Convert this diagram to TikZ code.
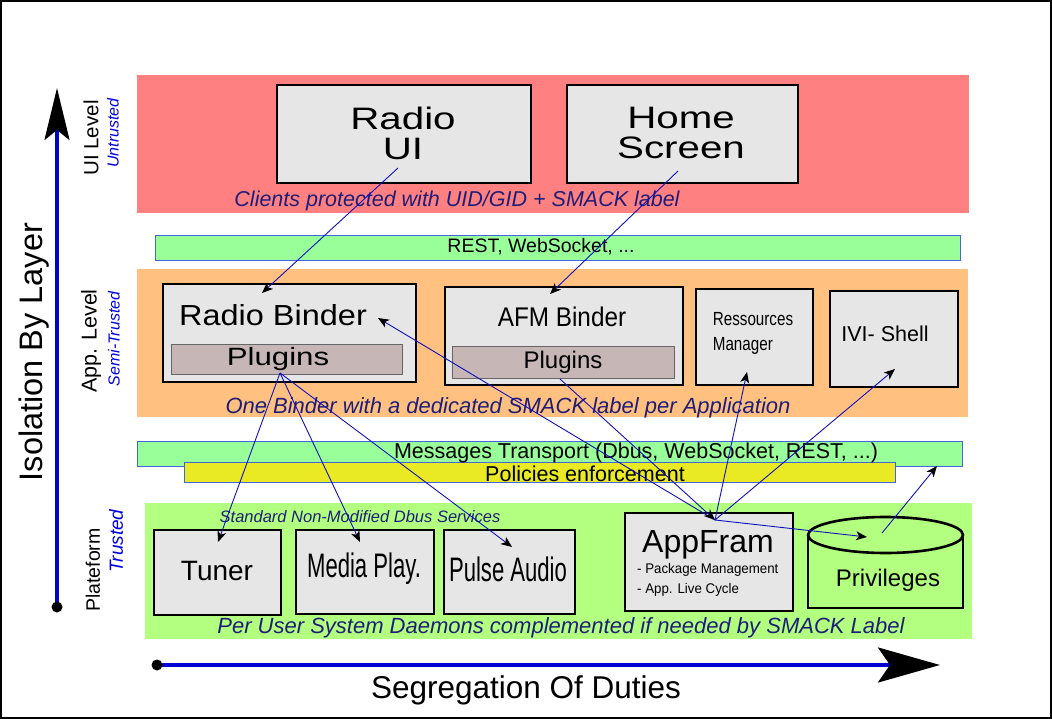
\documentclass[tikz,border=0pt]{standalone}
\usepackage{fontspec}
\setmainfont{Liberation Sans}
\usetikzlibrary{arrows.meta}
\definecolor{uired}{HTML}{FF8080}
\definecolor{apporange}{HTML}{FFC080}
\definecolor{bandgreen}{HTML}{99FF99}
\definecolor{platgreen}{HTML}{B3FF80}
\definecolor{polyellow}{HTML}{EAEA24}
\definecolor{bandblue}{HTML}{4466DD}
\definecolor{boxgray}{HTML}{E6E6E6}
\definecolor{pluggray}{HTML}{C6B6B6}
\definecolor{navy}{HTML}{1E1E78}
\definecolor{lblblue}{HTML}{0000E0}
\definecolor{linkblue}{HTML}{1010C0}
\definecolor{axisblue}{HTML}{0000D0}
\newcommand\fsz[2]{\fontsize{#1}{#2}\selectfont}
\begin{document}
\begin{tikzpicture}[x=1pt,y=-1pt,
 box/.style={draw=black,line width=2.2pt,fill=boxgray,anchor=north west,inner sep=0pt},
 plug/.style={draw=black!60,line width=1pt,fill=pluggray,anchor=north west,inner sep=0pt},
 band/.style={draw=bandblue,line width=1.2pt,anchor=north west,inner sep=0pt},
 layer/.style={anchor=north west,inner sep=0pt},
 txt/.style={inner sep=0pt,text=black},
 note/.style={inner sep=0pt,text=navy,font=\itshape\fsz{22}{26}},
 lvl/.style={inner sep=0pt,rotate=90,text=black},
 trust/.style={inner sep=0pt,rotate=90,text=lblblue,font=\itshape\fsz{16}{19}},
 link/.style={draw=linkblue,line width=0.9pt,-{Stealth[length=11pt,width=9pt,inset=3pt,color=black]}},
 axis/.style={draw=axisblue,line width=3.5pt}]
\useasboundingbox (0,0) rectangle (1052,719);
\draw[line width=2pt] (1,1) rectangle (1051,718);

% layers and bands
\node[layer,fill=uired,minimum width=832pt,minimum height=138pt] (uiband) at (137,75) {};
\node[band,fill=bandgreen,minimum width=805pt,minimum height=25pt] (rest) at (155,235) {};
\node[layer,fill=apporange,minimum width=831pt,minimum height=148pt] (appband) at (137,269) {};
\node[band,fill=bandgreen,minimum width=825pt,minimum height=25pt] (msg) at (137,441) {};
\node[band,fill=polyellow,minimum width=711pt,minimum height=20pt] (pol) at (184,462) {};
\node[layer,fill=platgreen,minimum width=827pt,minimum height=136pt] (platband) at (145,503) {};

% UI level boxes
\node[box,minimum width=254pt,minimum height=98pt] (radioui) at (276,84) {};
\node[box,minimum width=231pt,minimum height=98pt] (home) at (566,84) {};
\node[txt,xscale=1.3,align=center,font=\fsz{31}{30}] (radiouit) at (403,133) {Radio\\UI};
\node[txt,xscale=1.3,align=center,font=\fsz{31}{30}] (homet) at (681,133) {Home\\Screen};
\node[note,font=\itshape\fsz{21.5}{26}] (clients) at (457,201) {Clients protected with UID/GID + SMACK label};

\node[txt,font=\fsz{19.5}{23}] (restt) at (541,247) {REST, WebSocket, ...};

% App level boxes
\node[box,minimum width=253pt,minimum height=98pt] (rbinder) at (162,283) {};
\node[plug,minimum width=231pt,minimum height=30pt] (rplug) at (171,344) {};
\node[txt,xscale=1.12,font=\fsz{29}{34}] (rbindert) at (273,315) {Radio Binder};
\node[txt,xscale=1.25,font=\fsz{25}{30}] (rplugt) at (278,359) {Plugins};
\node[box,minimum width=238pt,minimum height=98pt] (afm) at (444,286) {};
\node[plug,minimum width=222pt,minimum height=32pt] (aplug) at (452,346) {};
\node[txt,xscale=0.9,font=\fsz{27}{32}] (afmt) at (562,317) {AFM Binder};
\node[txt,font=\fsz{24}{28}] (aplugt) at (563,362) {Plugins};
\node[box,minimum width=117pt,minimum height=96pt] (resman) at (695,288) {};
\node[txt,xscale=0.8,align=left,font=\fsz{19}{25}] (resmant) at (753,333) {Ressources\\Manager};
\node[box,minimum width=128pt,minimum height=96pt] (ivi) at (829,290) {};
\node[txt,font=\fsz{21.5}{25}] (ivit) at (885,334) {IVI- Shell};
\node[note] (onebinder) at (508,408) {One Binder with a dedicated SMACK label per Application};

\node[txt,font=\fsz{21.5}{25}] (msgt) at (636,453) {Messages Transport (Dbus, WebSocket, REST, ...)};
\node[txt,font=\fsz{21.5}{25}] (polt) at (585,474) {Policies enforcement};

% Platform boxes
\node[note,font=\itshape\fsz{16.5}{19}] (standard) at (360,517) {Standard Non-Modified Dbus Services};
\node[box,minimum width=127pt,minimum height=85pt] (tuner) at (153,529) {};
\node[txt,font=\fsz{28}{32}] (tunert) at (217,571) {Tuner};
\node[box,minimum width=138pt,minimum height=84pt] (media) at (295,529) {};
\node[txt,xscale=0.65,font=\fsz{34}{38}] (mediat) at (364,569) {Media Play.};
\node[box,minimum width=131pt,minimum height=84pt] (pulse) at (443,529) {};
\node[txt,xscale=0.65,font=\fsz{34}{38}] (pulset) at (508,569) {Pulse Audio};
\node[box,minimum width=168pt,minimum height=98pt] (appfram) at (624,512) {};
\node[txt,font=\fsz{32}{36}] (appframt) at (708,545) {AppFram};
\node[txt,anchor=west,xscale=0.95,font=\fsz{14}{17}] (pkg) at (637,570) {- Package Management};
\node[txt,anchor=west,xscale=0.95,font=\fsz{14}{17}] (cycle) at (637,590) {- App. Live Cycle};

% Privileges cylinder
\fill[platgreen] (808,535) rectangle (963,608);
\draw[line width=2.2pt] (808,535) -- (808,608) -- (963,608) -- (963,535);
\draw[line width=2.6pt,fill=platgreen] (885.5,535) ellipse [x radius=77.5pt, y radius=18pt];
\node[txt,font=\fsz{24}{28}] (priv) at (888,580) {Privileges};

\node[note] (peruser) at (561,628) {Per User System Daemons complemented if needed by SMACK Label};

% left labels
\node[lvl,font=\fsz{32.5}{38}] (isolation) at (34,352) {Isolation By Layer};
\node[lvl,font=\fsz{20.5}{24}] (uilevel) at (91,138) {UI Level};
\node[trust] (untrusted) at (113,133) {Untrusted};
\node[lvl,font=\fsz{21.5}{25}] (applevel) at (91,341) {App. Level};
\node[trust] (semitrusted) at (114,339) {Semi-Trusted};
\node[lvl,font=\fsz{19.5}{23}] (plateform) at (93,570) {Plateform};
\node[trust,font=\itshape\fsz{19}{22}] (trusted) at (116,541) {Trusted};

% axes
\coordinate (vdot) at (57,607);
\coordinate (vtip) at (57,88);
\coordinate (hdot) at (157,665);
\coordinate (htip) at (940,665);
\draw[axis,-{Stealth[length=52pt,width=25pt,inset=10pt,color=black]}] (vdot) -- (vtip);
\draw[axis,-{Stealth[length=62pt,width=35pt,inset=12pt,color=black]}] (hdot) -- (htip);
\fill (vdot) circle[radius=5.5pt];
\fill (hdot) circle[radius=5.5pt];
\node[txt,font=\fsz{31.5}{36}] (segregation) at (526,690) {Segregation Of Duties};

% connector end points
\coordinate (ruiP) at (398,168);
\coordinate (rbP) at (262,293);
\coordinate (hsP) at (678,171);
\coordinate (afP) at (550,294);
\coordinate (aplP) at (560,379);
\coordinate (appP) at (715,520);
\coordinate (rbT) at (378,318);
\coordinate (rmP) at (747,372);
\coordinate (iviP) at (895,369);
\coordinate (prP) at (867,537);
\coordinate (prS) at (882,533);
\coordinate (msgP) at (937,466);
\coordinate (rplP) at (280,373);
\coordinate (tunP) at (218,542);
\coordinate (medP) at (360,542);
\coordinate (pulP) at (512,547);

% connectors
\draw[link] (ruiP) -- (rbP);
\draw[link] (hsP) -- (afP);
\draw[link] (appP) -- (rbT);
\draw[link] (aplP) -- (appP);
\draw[link] (appP) -- (rmP);
\draw[link] (appP) -- (iviP);
\draw[link] (appP) -- (prP);
\draw[link] (prS) -- (msgP);
\draw[link] (rplP) -- (tunP);
\draw[link] (rplP) -- (medP);
\draw[link] (rplP) -- (pulP);
\end{tikzpicture}
\end{document}
